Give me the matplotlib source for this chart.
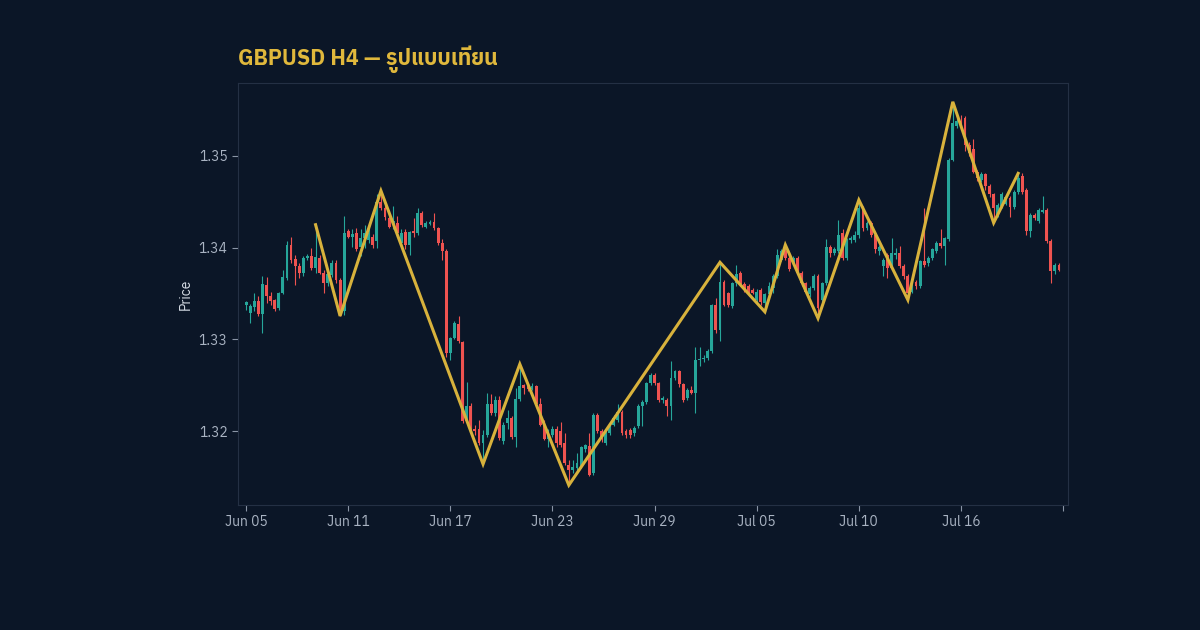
import numpy as np
import matplotlib
matplotlib.use("Agg")
import matplotlib.pyplot as plt
from matplotlib import font_manager

# GBPUSD H4 candles (index = candle number)
opens = [1.3337, 1.3329, 1.3335, 1.3342, 1.3328, 1.3359, 1.3347, 1.3343, 1.3334, 1.3351,
         1.3367, 1.3403, 1.3388, 1.3380, 1.3372, 1.3389, 1.3391, 1.3378, 1.3389, 1.3372,
         1.3361, 1.3370, 1.3383, 1.3365, 1.3331, 1.3418, 1.3412, 1.3416, 1.3401, 1.3410,
         1.3408, 1.3412, 1.3407, 1.3450, 1.3443, 1.3432, 1.3425, 1.3427, 1.3405, 1.3417,
         1.3403, 1.3418, 1.3416, 1.3438, 1.3423, 1.3426, 1.3428, 1.3421, 1.3405, 1.3396,
         1.3285, 1.3301, 1.3317, 1.3297, 1.3211, 1.3227, 1.3202, 1.3202, 1.3187, 1.3196,
         1.3230, 1.3220, 1.3234, 1.3189, 1.3209, 1.3214, 1.3194, 1.3235, 1.3250, 1.3249,
         1.3246, 1.3249, 1.3229, 1.3207, 1.3191, 1.3196, 1.3202, 1.3200, 1.3187, 1.3163,
         1.3158, 1.3160, 1.3162, 1.3180, 1.3184, 1.3154, 1.3218, 1.3200, 1.3187, 1.3198,
         1.3207, 1.3212, 1.3221, 1.3200, 1.3201, 1.3198, 1.3205, 1.3227, 1.3232, 1.3252,
         1.3261, 1.3252, 1.3234, 1.3234, 1.3227, 1.3258, 1.3265, 1.3251, 1.3236, 1.3245,
         1.3242, 1.3277, 1.3279, 1.3280, 1.3287, 1.3337, 1.3310, 1.3363, 1.3350, 1.3336,
         1.3361, 1.3372, 1.3360, 1.3358, 1.3354, 1.3343, 1.3354, 1.3340, 1.3349, 1.3356,
         1.3369, 1.3387, 1.3396, 1.3389, 1.3383, 1.3389, 1.3372, 1.3361, 1.3349, 1.3356,
         1.3369, 1.3343, 1.3361, 1.3401, 1.3394, 1.3396, 1.3416, 1.3389, 1.3408, 1.3408,
         1.3414, 1.3441, 1.3421, 1.3427, 1.3414, 1.3396, 1.3380, 1.3392, 1.3378, 1.3392,
         1.3394, 1.3380, 1.3369, 1.3352, 1.3363, 1.3358, 1.3385, 1.3383, 1.3389, 1.3396,
         1.3405, 1.3402, 1.3409, 1.3496, 1.3533, 1.3538, 1.3541, 1.3512, 1.3507, 1.3483,
         1.3474, 1.3480, 1.3467, 1.3458, 1.3436, 1.3445, 1.3448, 1.3454, 1.3444, 1.3461,
         1.3478, 1.3463, 1.3418, 1.3436, 1.3429, 1.3439, 1.3441, 1.3407, 1.3374, 1.3381]
highs = [1.3342, 1.3339, 1.3351, 1.3347, 1.3369, 1.3368, 1.3352, 1.3344, 1.3352, 1.3376,
         1.3407, 1.3412, 1.3392, 1.3383, 1.3391, 1.3393, 1.3400, 1.3425, 1.3392, 1.3376,
         1.3373, 1.3386, 1.3387, 1.3367, 1.3434, 1.3420, 1.3420, 1.3421, 1.3420, 1.3425,
         1.3427, 1.3415, 1.3458, 1.3462, 1.3450, 1.3441, 1.3445, 1.3434, 1.3420, 1.3420,
         1.3418, 1.3432, 1.3443, 1.3440, 1.3429, 1.3430, 1.3438, 1.3423, 1.3409, 1.3399,
         1.3303, 1.3320, 1.3325, 1.3298, 1.3253, 1.3231, 1.3207, 1.3212, 1.3201, 1.3241,
         1.3240, 1.3238, 1.3238, 1.3210, 1.3223, 1.3216, 1.3247, 1.3273, 1.3251, 1.3250,
         1.3252, 1.3250, 1.3236, 1.3212, 1.3202, 1.3205, 1.3205, 1.3210, 1.3198, 1.3169,
         1.3169, 1.3176, 1.3184, 1.3186, 1.3198, 1.3220, 1.3220, 1.3202, 1.3200, 1.3209,
         1.3217, 1.3229, 1.3223, 1.3202, 1.3203, 1.3205, 1.3229, 1.3234, 1.3254, 1.3263,
         1.3263, 1.3254, 1.3238, 1.3236, 1.3276, 1.3267, 1.3267, 1.3252, 1.3247, 1.3249,
         1.3292, 1.3292, 1.3283, 1.3290, 1.3339, 1.3345, 1.3384, 1.3365, 1.3352, 1.3363,
         1.3381, 1.3374, 1.3362, 1.3360, 1.3356, 1.3355, 1.3356, 1.3351, 1.3362, 1.3371,
         1.3398, 1.3399, 1.3403, 1.3391, 1.3391, 1.3391, 1.3374, 1.3363, 1.3358, 1.3371,
         1.3371, 1.3363, 1.3409, 1.3403, 1.3401, 1.3430, 1.3420, 1.3411, 1.3413, 1.3418,
         1.3452, 1.3445, 1.3429, 1.3429, 1.3416, 1.3403, 1.3389, 1.3394, 1.3410, 1.3400,
         1.3402, 1.3382, 1.3371, 1.3366, 1.3365, 1.3387, 1.3443, 1.3391, 1.3400, 1.3407,
         1.3420, 1.3412, 1.3498, 1.3559, 1.3545, 1.3545, 1.3543, 1.3515, 1.3518, 1.3485,
         1.3483, 1.3481, 1.3469, 1.3460, 1.3449, 1.3461, 1.3457, 1.3456, 1.3463, 1.3481,
         1.3481, 1.3465, 1.3438, 1.3438, 1.3443, 1.3456, 1.3443, 1.3409, 1.3383, 1.3383]
lows = [1.3332, 1.3318, 1.3331, 1.3325, 1.3307, 1.3340, 1.3338, 1.3331, 1.3332, 1.3349,
        1.3365, 1.3383, 1.3359, 1.3367, 1.3369, 1.3387, 1.3376, 1.3372, 1.3371, 1.3351,
        1.3358, 1.3368, 1.3361, 1.33255, 1.3327, 1.3410, 1.3401, 1.3396, 1.3391, 1.3400,
        1.3405, 1.3400, 1.3400, 1.3441, 1.3430, 1.3421, 1.3420, 1.3412, 1.3403, 1.3398,
        1.3392, 1.3412, 1.3414, 1.3423, 1.3421, 1.3425, 1.3419, 1.3403, 1.3387, 1.3281,
        1.3278, 1.3300, 1.3296, 1.3209, 1.3209, 1.3198, 1.3196, 1.3185, 1.3164, 1.3194,
        1.3218, 1.3216, 1.3190, 1.3186, 1.3202, 1.3191, 1.3183, 1.3233, 1.3240, 1.3244,
        1.3245, 1.3227, 1.3205, 1.3190, 1.3183, 1.3194, 1.3183, 1.3183, 1.3163, 1.3141,
        1.3154, 1.3156, 1.3160, 1.3177, 1.3151, 1.3152, 1.3198, 1.3188, 1.3185, 1.3196,
        1.3205, 1.3210, 1.3196, 1.3193, 1.3192, 1.3195, 1.3203, 1.3205, 1.3230, 1.3250,
        1.3250, 1.3232, 1.3231, 1.3216, 1.3212, 1.3256, 1.3248, 1.3232, 1.3234, 1.3240,
        1.3220, 1.3271, 1.3275, 1.3278, 1.3285, 1.3307, 1.3298, 1.3336, 1.3335, 1.3334,
        1.3358, 1.3358, 1.3352, 1.3347, 1.3349, 1.3341, 1.3338, 1.3330, 1.3347, 1.3350,
        1.3367, 1.3385, 1.3387, 1.3375, 1.3381, 1.3370, 1.3358, 1.3349, 1.3346, 1.3354,
        1.3323, 1.3341, 1.3359, 1.3390, 1.3392, 1.3394, 1.3387, 1.3386, 1.3405, 1.3406,
        1.3410, 1.3418, 1.3419, 1.3412, 1.3394, 1.3392, 1.3369, 1.3367, 1.3376, 1.3388,
        1.3378, 1.3366, 1.3343, 1.3350, 1.3355, 1.3356, 1.3379, 1.3380, 1.3387, 1.3394,
        1.3400, 1.3381, 1.3407, 1.3494, 1.3530, 1.3528, 1.3505, 1.3500, 1.3481, 1.3473,
        1.3472, 1.3463, 1.3455, 1.3427, 1.3433, 1.3443, 1.3446, 1.3433, 1.3442, 1.3459,
        1.3459, 1.3414, 1.3412, 1.3430, 1.3427, 1.3438, 1.3405, 1.3361, 1.3371, 1.3374]
closes = [1.3341, 1.3336, 1.3342, 1.3328, 1.3360, 1.3347, 1.3342, 1.3333, 1.3351, 1.3368,
          1.3403, 1.3386, 1.3380, 1.3372, 1.3389, 1.3391, 1.3378, 1.3390, 1.3372, 1.3361,
          1.3371, 1.3383, 1.3365, 1.3331, 1.3416, 1.3412, 1.3415, 1.3398, 1.3410, 1.3416,
          1.3416, 1.3403, 1.3450, 1.3443, 1.3433, 1.3423, 1.3429, 1.3416, 1.3416, 1.3403,
          1.3417, 1.3416, 1.3438, 1.3425, 1.3427, 1.3428, 1.3421, 1.3405, 1.3396, 1.3285,
          1.3301, 1.3318, 1.3298, 1.3211, 1.3227, 1.3202, 1.3200, 1.3187, 1.3196, 1.3230,
          1.3220, 1.3234, 1.3193, 1.3207, 1.3214, 1.3194, 1.3235, 1.3249, 1.3247, 1.3246,
          1.3249, 1.3229, 1.3207, 1.3191, 1.3196, 1.3202, 1.3187, 1.3185, 1.3165, 1.3158,
          1.3161, 1.3165, 1.3183, 1.3185, 1.3152, 1.3218, 1.3200, 1.3191, 1.3198, 1.3207,
          1.3214, 1.3221, 1.3198, 1.3196, 1.3196, 1.3203, 1.3227, 1.3232, 1.3252, 1.3261,
          1.3252, 1.3234, 1.3236, 1.3227, 1.3258, 1.3265, 1.3251, 1.3234, 1.3245, 1.3242,
          1.3278, 1.3279, 1.3280, 1.3287, 1.3337, 1.3310, 1.3363, 1.3338, 1.3338, 1.3361,
          1.3371, 1.3360, 1.3354, 1.3351, 1.3351, 1.3352, 1.3341, 1.3349, 1.3358, 1.3369,
          1.3392, 1.3396, 1.3389, 1.3377, 1.3389, 1.3372, 1.3361, 1.3352, 1.3356, 1.3369,
          1.3334, 1.3361, 1.3401, 1.3394, 1.3398, 1.3414, 1.3389, 1.3409, 1.3410, 1.3414,
          1.3443, 1.3421, 1.3427, 1.3414, 1.3398, 1.3401, 1.3387, 1.3378, 1.3394, 1.3394,
          1.3380, 1.3369, 1.3351, 1.3363, 1.3358, 1.3385, 1.3381, 1.3389, 1.3398, 1.3405,
          1.3402, 1.3410, 1.3496, 1.3536, 1.3538, 1.3533, 1.3512, 1.3503, 1.3483, 1.3476,
          1.3480, 1.3467, 1.3458, 1.3443, 1.3447, 1.3459, 1.3455, 1.3444, 1.3461, 1.3476,
          1.3461, 1.3418, 1.3436, 1.3432, 1.3441, 1.3441, 1.3407, 1.3374, 1.3381, 1.3376]

# zigzag swing points (candle index, price)
zz_idx = [17, 23, 33, 58, 67, 79, 116, 127, 132, 140, 150, 162, 173, 183, 189]
zz_price = [1.3425, 1.33255, 1.3462, 1.3164, 1.3273, 1.3141, 1.3384, 1.3330,
            1.3403, 1.3323, 1.3452, 1.3343, 1.3559, 1.3427, 1.3481]

tick_pos = [0, 25, 50, 75, 100, 125, 150, 175, 200]
tick_labels = ['Jun 05', 'Jun 11', 'Jun 17', 'Jun 23', 'Jun 29', 'Jul 05', 'Jul 10', 'Jul 16', '']

bg = '#0b1627'
up = '#26a69a'
down = '#ef5350'
gold = '#d8b23c'

thai_fonts = [f.name for f in font_manager.fontManager.ttflist if 'Thai' in f.name]
fam = thai_fonts[:1] + ['Noto Sans', 'DejaVu Sans']
plt.rcParams['font.family'] = fam

o = np.array(opens)
h = np.array(highs)
l = np.array(lows)
c = np.array(closes)
x = np.arange(len(o))
cols = np.where(c >= o, up, down)

fig = plt.figure(figsize=(12, 6.3), dpi=100, facecolor=bg)
ax = fig.add_axes([0.1983, 0.1984, 0.6917, 0.67])
ax.set_facecolor(bg)

ax.vlines(x, l, h, colors=cols, linewidth=0.8, zorder=2)
body = np.maximum(np.abs(c - o), 0.00004)
ax.bar(x, body, bottom=np.minimum(o, c), width=0.7, color=cols, linewidth=0, zorder=3)

ax.plot(zz_idx, zz_price, color=gold, linewidth=2.2, solid_joinstyle='miter', zorder=4)

ax.set_xlim(-2, 201.2)
ax.set_ylim(1.31194, 1.35796)
ax.set_xticks(tick_pos)
ax.set_xticklabels(tick_labels)
ax.set_yticks([1.32, 1.33, 1.34, 1.35])
ax.set_yticklabels(['1.32', '1.33', '1.34', '1.35'])
ax.tick_params(colors='#8a95a6', labelcolor='#aab4c3', labelsize=10, length=4, width=0.8)
for s in ax.spines.values():
    s.set_color('#243044')
    s.set_linewidth(0.8)
ax.set_ylabel('Price', color='#d5dbe4', fontsize=10, labelpad=4)

fig.text(0.1983, 0.906, 'GBPUSD H4 — รูปแบบเทียน', color='#e0b83c', fontsize=15.5,
         fontweight='bold', ha='left', va='center')

fig.savefig('out.png', facecolor=bg)
